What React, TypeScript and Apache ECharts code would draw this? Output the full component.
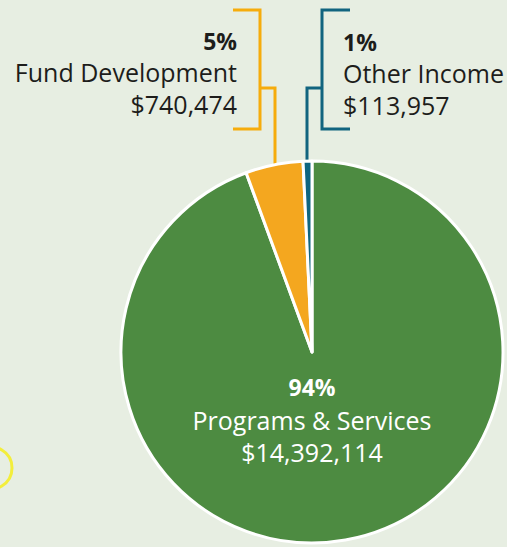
import React, { useEffect, useRef } from "react";
import * as echarts from "echarts";

const categories = ["Programs & Services", "Fund Development", "Other Income"];
const values = [14392114, 740474, 113957];
const percentLabels = ["94%", "5%", "1%"];
const amountLabels = ["$14,392,114", "$740,474", "$113,957"];
const sliceColors = ["#4D8B41", "#F4A71F", "#0F6580"];

export default function App() {
  const ref = useRef<HTMLDivElement>(null);
  useEffect(() => {
    document.body.style.margin = "0";
    const chart = echarts.init(ref.current!, undefined, { renderer: "svg" });
    const font = "'Open Sans', sans-serif";
    const textColor = "#1d1d1b";
    const fs = 25;
    const orangeLine = "#F6AC0C";
    const blueLine = "#11647F";
    const lw = 3;
    const textEl = (x: number, y: number, t: string, align: string, bold: boolean, fill: string) => ({
      type: "text",
      x,
      y,
      silent: true,
      style: {
        text: t,
        fill,
        font: `${bold ? "bold " : ""}${bold ? fs - 2 : fs}px ${font}`,
        align,
        verticalAlign: "middle",
      },
    });
    chart.setOption({
      animation: false,
      backgroundColor: "#E7EEE2",
      graphic: [
        // orange bracket
        { type: "polyline", shape: { points: [[233, 10], [260, 10], [260, 129], [233, 129]] }, style: { stroke: orangeLine, lineWidth: lw, fill: null }, silent: true },
        { type: "polyline", shape: { points: [[260, 88], [275, 88], [275, 178]] }, style: { stroke: orangeLine, lineWidth: lw, fill: null }, silent: true },
        // blue bracket
        { type: "polyline", shape: { points: [[350, 10], [322, 10], [322, 129], [350, 129]] }, style: { stroke: blueLine, lineWidth: lw, fill: null }, silent: true },
        { type: "polyline", shape: { points: [[322, 88], [307, 88], [307, 175]] }, style: { stroke: blueLine, lineWidth: lw, fill: null }, silent: true },
        // yellow doodle
        { type: "circle", shape: { cx: -9, cy: 468, r: 21 }, style: { stroke: "#F3EE3C", lineWidth: 3, fill: null }, silent: true },
        textEl(237, 41, percentLabels[1], "right", true, textColor),
        textEl(237, 72, categories[1], "right", false, textColor),
        textEl(237, 104, amountLabels[1], "right", false, textColor),
        textEl(343, 42, percentLabels[2], "left", true, textColor),
        textEl(343, 73, categories[2], "left", false, textColor),
        textEl(343, 105, amountLabels[2], "left", false, textColor),
        { ...textEl(312, 387, percentLabels[0], "center", true, "#ffffff"), z: 10 },
        { ...textEl(312, 420, categories[0], "center", false, "#ffffff"), z: 10 },
        { ...textEl(312, 452, amountLabels[0], "center", false, "#ffffff"), z: 10 },
      ],
      series: [
        {
          type: "pie",
          center: [312, 352],
          radius: 191,
          startAngle: 90,
          clockwise: true,
          silent: true,
          z: 2,
          label: { show: false },
          labelLine: { show: false },
          itemStyle: { borderColor: "#ffffff", borderWidth: 3 },
          data: categories.map((c, i) => ({ name: c, value: values[i], itemStyle: { color: sliceColors[i] } })),
        },
      ],
    });
    return () => chart.dispose();
  }, []);
  return <div ref={ref} style={{ position: "absolute", left: 0, top: 0, width: 507, height: 547 }} />;
}
